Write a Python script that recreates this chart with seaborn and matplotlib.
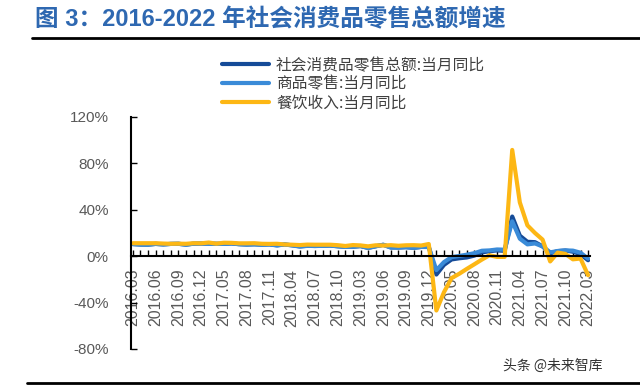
import matplotlib
matplotlib.use("Agg")
import matplotlib.pyplot as plt
import numpy as np
import pandas as pd
import seaborn as sns
from matplotlib.lines import Line2D

# ---------------- data ----------------
years = [2016, 2017, 2018, 2019, 2020, 2021]
months = [3, 4, 5, 6, 7, 8, 9, 10, 11, 12]
periods = [f"{y}.{m:02d}" for y in years for m in months] + ["2022.03"]

total = [10.5, 10.1, 10.0, 10.6, 10.2, 10.6, 10.7, 10.0, 10.8, 10.9,
         10.9, 10.7, 10.7, 11.0, 10.4, 10.1, 10.3, 10.0, 10.2, 9.4,
         10.1, 9.4, 8.5, 9.0, 8.8, 9.0, 9.2, 8.6, 8.1, 8.2,
         8.7, 7.2, 8.6, 9.8, 7.6, 7.5, 7.8, 7.2, 8.0, 8.0,
         -15.8, -7.5, -2.8, -1.8, -1.1, 0.5, 3.3, 4.3, 5.0, 4.6,
         34.2, 17.7, 12.4, 12.1, 8.5, 2.5, 4.4, 4.9, 3.9, 1.7,
         -3.5]
goods = [10.4, 10.0, 9.9, 10.6, 10.1, 10.6, 10.7, 9.9, 10.8, 10.9,
         10.8, 10.6, 10.6, 11.0, 10.3, 10.0, 10.2, 9.8, 10.1, 9.3,
         10.1, 9.3, 8.3, 8.9, 8.8, 8.9, 9.2, 8.5, 8.0, 8.1,
         8.8, 7.1, 8.5, 9.9, 7.4, 7.4, 7.8, 7.2, 8.0, 7.9,
         -12.0, -5.1, -0.8, 0.2, 1.3, 2.6, 4.7, 5.0, 5.8, 5.6,
         30.1, 15.1, 10.2, 11.0, 8.4, 3.3, 4.5, 5.0, 4.8, 3.0,
         -2.1]
catering = [11.2, 11.2, 11.2, 11.2, 10.9, 10.7, 10.8, 10.7, 11.2, 11.1,
            11.8, 10.8, 11.6, 11.5, 11.1, 11.1, 11.2, 10.7, 10.6, 10.7,
            10.1, 9.9, 9.6, 10.0, 9.9, 9.9, 9.9, 9.5, 8.8, 9.6,
            9.3, 8.5, 9.4, 9.2, 9.5, 9.0, 9.4, 9.5, 9.2, 10.5,
            -46.8, -31.1, -18.9, -15.2, -11.0, -7.0, -2.9, 0.8, -0.6, -0.6,
            91.6, 46.4, 26.6, 20.0, 14.3, -4.5, 3.1, 2.0, -2.7, -2.0,
            -16.4]

series_names = ["社会消费品零售总额:当月同比", "商品零售:当月同比", "餐饮收入:当月同比"]
colors = ["#154B98", "#3A8BD8", "#FDB714"]
yticks = [-80, -40, 0, 40, 80, 120]
ytick_labels = ["-80%", "-40%", "0%", "40%", "80%", "120%"]
title = "图 3：2016-2022 年社会消费品零售总额增速"
watermark = "头条 @未来智库"

# ---------------- build ----------------
sns.set_theme(style="white")
plt.rcParams["font.family"] = ["Liberation Sans", "Noto Sans CJK SC", "DejaVu Sans"]

n = len(periods)
df = pd.DataFrame({
    "idx": list(range(n)) * 3,
    "value": total + goods + catering,
    "series": [series_names[0]] * n + [series_names[1]] * n + [series_names[2]] * n,
})

fig = plt.figure(figsize=(6.4, 3.85), dpi=100)
ax = fig.add_axes([131 / 640, 1 - 349 / 385, (590 - 131) / 640, (349 - 117) / 385])
ax.set_axisbelow(True)

sns.lineplot(data=df, x="idx", y="value", hue="series", hue_order=series_names,
             palette=colors, linewidth=3.0, ax=ax, legend=True)

ax.set_xlim(-0.25, n - 0.75)
ax.set_ylim(-80, 120)
ax.set_xlabel("")
ax.set_ylabel("")

major = list(range(0, n, 3))
ax.set_xticks(major)
ax.set_xticklabels([periods[i] for i in major])
ax.set_xticks(list(range(n)), minor=True)
ax.set_yticks(yticks)
ax.set_yticklabels(ytick_labels)

ax.tick_params(axis="x", which="both", direction="in", length=4, width=1,
               color="black", bottom=True)
ax.tick_params(axis="x", which="major", pad=9, labelrotation=90,
               labelsize=11.5, labelcolor="#595959")
ax.tick_params(axis="y", which="major", direction="in", length=4, width=1,
               color="black", pad=16, left=True, labelsize=11,
               labelcolor="#595959")

for s in ["top", "right"]:
    ax.spines[s].set_visible(False)
ax.spines["bottom"].set_position(("data", 0))
ax.spines["bottom"].set_color("black")
ax.spines["bottom"].set_linewidth(1.5)
ax.spines["left"].set_color("black")
ax.spines["left"].set_linewidth(1.5)
for s in ["bottom", "left"]:
    ax.spines[s].set_zorder(2.6)
ax.grid(False)

sns.move_legend(ax, loc="upper left", bbox_to_anchor=(214 / 640, 1 - 49 / 385),
                bbox_transform=fig.transFigure, title=None, frameon=False,
                handlelength=3.0, handletextpad=0.45,
                labelspacing=0.12, borderpad=0,
                prop={"family": ["Noto Sans CJK SC", "DejaVu Sans"], "size": 11.3})
leg = ax.get_legend()
for t in leg.get_texts():
    t.set_color("#404040")
for h in leg.get_lines():
    h.set_linewidth(3.0)

fig.text(35 / 640, 1 - 20 / 385, title, fontsize=17, fontweight="bold",
         color="#2E68B1", va="center", ha="left",
         family=["Liberation Sans", "Noto Sans CJK SC"])
fig.add_artist(Line2D([32 / 640, 1.0], [1 - 38 / 385] * 2, color="black", lw=2))
fig.add_artist(Line2D([27 / 640, 1.0], [1 - 383 / 385] * 2, color="black", lw=2))
fig.text(503 / 640, 1 - 366 / 385, watermark, fontsize=10, color="#333333",
         va="center", ha="left", family=["Noto Sans CJK SC", "DejaVu Sans"])

fig.savefig("out.png", dpi=100)
